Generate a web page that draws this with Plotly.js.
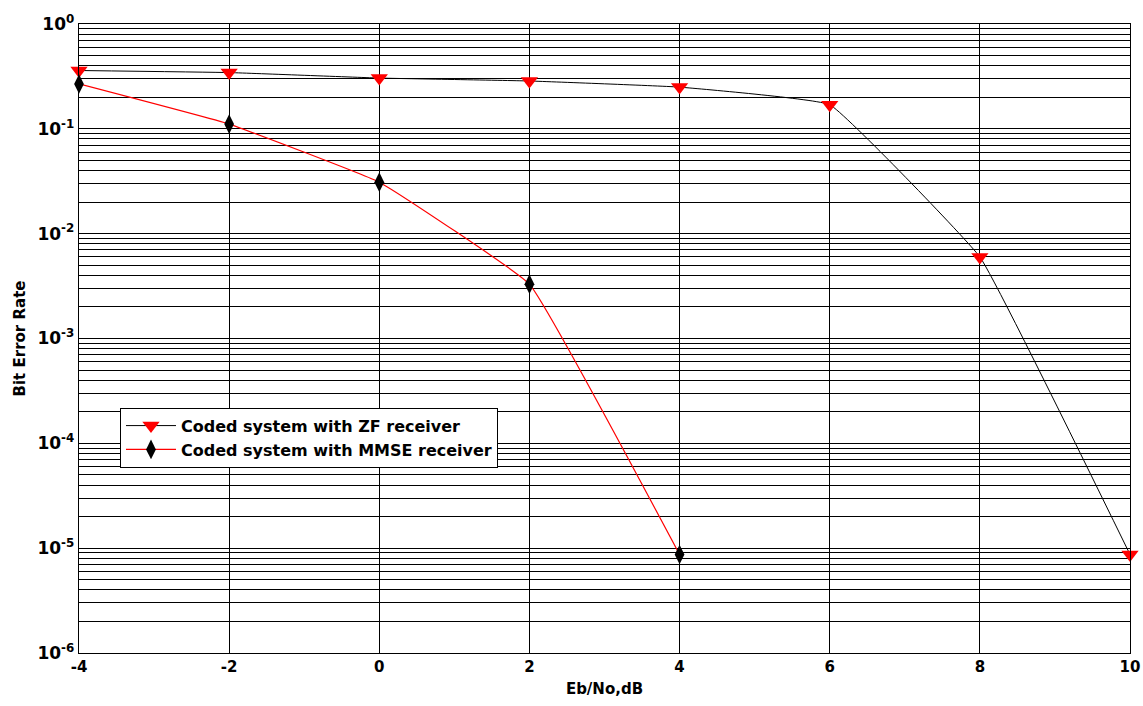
<!DOCTYPE html>
<html>
<head>
<meta charset="utf-8">
<script src="https://cdn.plot.ly/plotly-3.0.1.min.js"></script>
<style>html,body{margin:0;padding:0;background:#fff;}#chart{width:1143px;height:706px;}</style>
</head>
<body>
<div id="chart"></div>
<script>
const ebno = [-4, -2, 0, 2, 4, 6, 8, 10];
const berZF = [0.36, 0.344, 0.305, 0.286, 0.25, 0.17, 0.006, 8.7e-6];
const ebnoMMSE = [-4, -2, 0, 2, 4];
const berMMSE = [0.268, 0.111, 0.031, 0.0033, 8.7e-6];
const yTickVals = [1, 0.1, 0.01, 0.001, 1e-4, 1e-5, 1e-6];
const yTickText = ['10<sup>0</sup>', '10<sup>-1</sup>', '10<sup>-2</sup>', '10<sup>-3</sup>', '10<sup>-4</sup>', '10<sup>-5</sup>', '10<sup>-6</sup>'];
const xTickVals = [-4, -2, 0, 2, 4, 6, 8, 10];
const xTickText = ['-4', '-2', '0', '2', '4', '6', '8', '10'];

const font = 'DejaVu Sans, Verdana, sans-serif';

const traces = [
  {
    x: ebno, y: berZF, name: '<b>Coded system with ZF receiver</b>',
    mode: 'lines+markers', type: 'scatter', cliponaxis: false,
    line: {color: '#000', width: 1, shape: 'spline', smoothing: 0.25},
    marker: {symbol: 'triangle-down', color: '#ff0000', size: 15, line: {width: 0}}
  },
  {
    x: ebnoMMSE, y: berMMSE, name: '<b>Coded system with MMSE receiver</b>',
    mode: 'lines+markers', type: 'scatter', cliponaxis: false,
    line: {color: '#ff0000', width: 1.2, shape: 'spline', smoothing: 0.25},
    marker: {symbol: 'diamond-tall', color: '#000', size: 14, line: {width: 0}}
  }
];

const layout = {
  width: 1143, height: 706,
  margin: {l: 79, r: 13, t: 24, b: 53},
  paper_bgcolor: '#fff', plot_bgcolor: '#fff',
  showlegend: true,
  legend: {
    x: 0.039, y: 0.39, xanchor: 'left', yanchor: 'top',
    bgcolor: '#fff', bordercolor: '#000', borderwidth: 1,
    font: {family: font, size: 16, color: '#000'},
    itemwidth: 50,
    tracegroupgap: 0
  },
  xaxis: {
    range: [-4, 10],
    tickvals: xTickVals, ticktext: xTickText,
    ticks: '', showgrid: true, gridcolor: '#000', gridwidth: 1,
    zeroline: false, showline: true, linecolor: '#000', linewidth: 1.3, mirror: true,
    tickfont: {family: font, size: 15, color: '#000', weight: 'bold'},
    title: {text: '<b>Eb/No,dB</b>', font: {family: font, size: 15, color: '#000'}, standoff: 8}
  },
  yaxis: {
    type: 'log', range: [-6, 0],
    tickvals: yTickVals, ticktext: yTickText,
    ticks: '', showgrid: true, gridcolor: '#000', gridwidth: 1,
    minor: {showgrid: true, gridcolor: '#000', gridwidth: 1, dtick: 'D1', ticks: ''},
    zeroline: false, showline: true, linecolor: '#000', linewidth: 1.3, mirror: true,
    tickfont: {family: font, size: 17, color: '#000', weight: 'bold'},
    title: {text: '<b>Bit Error Rate</b>', font: {family: font, size: 15, color: '#000'}, standoff: 8}
  }
};

Plotly.newPlot('chart', traces, layout, {displayModeBar: false, staticPlot: true});
</script>
</body>
</html>
